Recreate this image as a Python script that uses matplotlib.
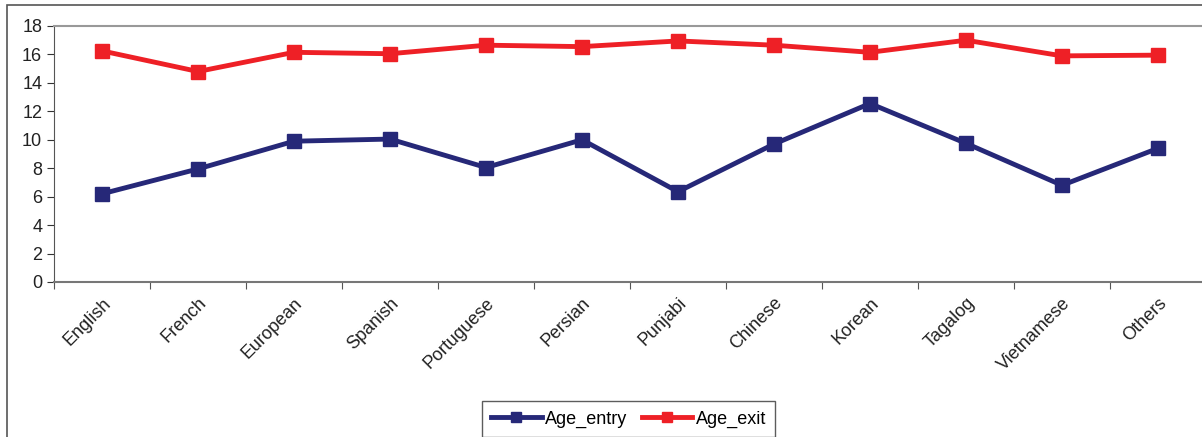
import matplotlib.pyplot as plt
import numpy as np
from matplotlib.patches import Rectangle

plt.rcParams['font.family'] = ['Liberation Sans', 'DejaVu Sans']

languages = ['English', 'French', 'European', 'Spanish', 'Portuguese', 'Persian',
             'Punjabi', 'Chinese', 'Korean', 'Tagalog', 'Vietnamese', 'Others']
age_entry = [6.2, 7.95, 9.9, 10.05, 8.05, 10.0, 6.35, 9.7, 12.55, 9.75, 6.8, 9.4]
age_exit = [16.25, 14.8, 16.15, 16.05, 16.65, 16.55, 16.95, 16.65, 16.15, 17.0, 15.9, 15.95]

W, H = 1202, 437
fig = plt.figure(figsize=(W / 100, H / 100), dpi=100)

# outer chart frame (cropped on right/bottom)
fig.patches.append(Rectangle((7 / W, -0.1), 1.2, (437 - 5) / H + 0.1,
                             transform=fig.transFigure, fill=False,
                             edgecolor='#555555', linewidth=1.2))

ax = fig.add_axes([54 / W, (437 - 282) / H, 1152 / W, 256 / H])
x = np.arange(len(languages))
navy = '#262878'
red = '#ee2026'
ax.plot(x, age_entry, color=navy, lw=3.5, marker='s', ms=10, label='Age_entry')
ax.plot(x, age_exit, color=red, lw=3.5, marker='s', ms=10, label='Age_exit')

ax.set_xlim(-0.5, len(languages) - 0.5)
ax.set_ylim(0, 18)
ax.set_yticks(range(0, 19, 2))
ax.tick_params(axis='y', labelsize=13, length=5, direction='out', colors='#333333',
               labelcolor='#222222')

ax.set_xticks(np.arange(len(languages) + 1) - 0.5)
ax.set_xticklabels([])
ax.tick_params(axis='x', which='major', length=5, color='#555555')
ax.set_xticks(x, minor=True)
ax.set_xticklabels(languages, minor=True, rotation=45, ha='right', va='top',
                   rotation_mode='anchor', fontsize=13, color='#222222')
ax.tick_params(axis='x', which='minor', length=0, pad=9)

for s in ['top', 'right']:
    ax.spines[s].set_color('#999999')
    ax.spines[s].set_linewidth(1.5)
ax.spines['bottom'].set_color('#777777')
ax.spines['bottom'].set_linewidth(1.5)
ax.spines['left'].set_color('#555555')

leg = fig.legend(loc='lower left', bbox_to_anchor=(473 / W, -0.02), ncol=2,
                 fontsize=13, frameon=True, fancybox=False, edgecolor='#333333',
                 handlelength=2.8, columnspacing=0.8, handletextpad=0.2,
                 borderpad=0.5, markerscale=0.7)
leg.get_frame().set_linewidth(1.0)

fig.savefig('out.png', dpi=100)
